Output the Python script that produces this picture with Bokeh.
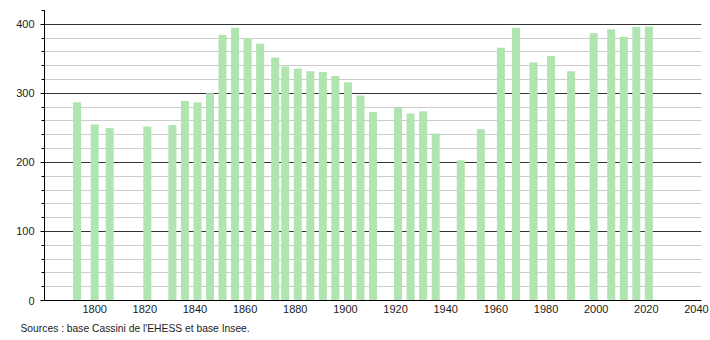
from bokeh.plotting import figure
from bokeh.models import FixedTicker, Range1d, Title, ColumnDataSource
from bokeh.embed import file_html
from bokeh.resources import INLINE

years = [1793, 1800, 1806, 1821, 1831, 1836, 1841, 1846, 1851, 1856, 1861, 1866,
         1872, 1876, 1881, 1886, 1891, 1896, 1901, 1906, 1911, 1921, 1926, 1931,
         1936, 1946, 1954, 1962, 1968, 1975, 1982, 1990, 1999, 2006, 2011, 2016, 2021]
population = [287, 255, 250, 252, 254, 289, 287, 300, 385, 395, 380, 372,
              352, 339, 336, 332, 331, 325, 316, 297, 273, 279, 271, 274,
              242, 203, 248, 366, 395, 345, 354, 332, 387, 393, 382, 396, 397]
x_ticks = [1800, 1820, 1840, 1860, 1880, 1900, 1920, 1940, 1960, 1980, 2000, 2020, 2040]
y_ticks = [0, 100, 200, 300, 400]
y_minor = list(range(0, 421, 20))
source_text = "Sources : base Cassini de l'EHESS et base Insee."

src = ColumnDataSource(dict(x=years, top=population))

p = figure(width=710, height=340, output_backend="svg", toolbar_location=None,
           x_range=Range1d(1780, 2042), y_range=Range1d(0, 420),
           min_border_left=44, min_border_right=9, min_border_top=10, min_border_bottom=40)
p.outline_line_color = None
p.background_fill_color = "white"
p.border_fill_color = "white"

p.vbar(x="x", top="top", width=3.2, source=src, fill_color="#b0e4b0",
       line_color=None)

font = "Liberation Sans"
p.xaxis.ticker = FixedTicker(ticks=x_ticks)
p.yaxis.ticker = FixedTicker(ticks=y_ticks, minor_ticks=y_minor)
for ax in (p.xaxis[0], p.yaxis[0]):
    ax.axis_line_color = "black"
    ax.axis_line_width = 1
    ax.major_label_text_font = font
    ax.major_label_text_font_size = "11px"
    ax.major_label_text_color = "#222222"
p.xaxis.major_tick_line_color = None
p.xaxis.minor_tick_line_color = None
p.xaxis.major_tick_out = 0
p.xaxis.major_tick_in = 0
p.xaxis.minor_tick_out = 0
p.xaxis.major_label_standoff = 4
p.yaxis.major_tick_out = 4
p.yaxis.major_tick_in = 0
p.yaxis.minor_tick_out = 3
p.yaxis.minor_tick_in = 0
p.yaxis.major_tick_line_color = "black"
p.yaxis.minor_tick_line_color = "black"
p.yaxis.major_label_standoff = 6

p.xgrid.grid_line_color = None
p.ygrid.ticker = FixedTicker(ticks=y_ticks, minor_ticks=y_minor)
p.ygrid.grid_line_color = "#333333"
p.ygrid.grid_line_width = 1
p.ygrid.minor_grid_line_color = "#cccccc"
p.ygrid.minor_grid_line_width = 1

t = Title(text=source_text, align="left", text_font=font, text_font_size="10.3px",
          text_font_style="normal", text_color="#222222", offset=-24, standoff=11)
p.add_layout(t, "below")

open("out.html", "w").write(file_html(p, INLINE))
